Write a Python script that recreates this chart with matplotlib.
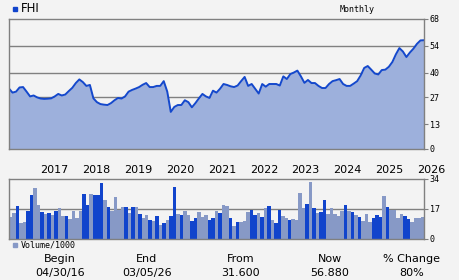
import matplotlib

matplotlib.use("Agg")

import matplotlib.pyplot as plt

# monthly closes, Apr 2016 .. Mar 2026
price = [
    31.6, 29.5, 30.0, 32.2, 32.4, 30.0, 27.5, 28.0, 27.0, 26.4,
    26.2, 26.3, 26.5, 27.5, 28.8, 28.0, 28.5, 30.3, 32.0, 34.5,
    36.4, 35.0, 33.0, 33.5, 26.5, 24.5, 23.5, 23.2, 23.0, 24.0,
    25.5, 26.7, 26.4, 27.5, 30.0, 30.9, 31.6, 32.4, 33.6, 34.5,
    32.4, 32.4, 33.0, 33.0, 35.5, 30.0, 19.4, 22.0, 23.0, 23.0,
    25.5, 24.5, 21.8, 24.0, 26.5, 28.8, 27.5, 26.7, 30.5, 29.5,
    31.5, 34.0, 33.5, 32.8, 32.4, 33.2, 35.5, 37.7, 33.0, 34.0,
    31.5, 29.0, 34.0, 32.6, 34.0, 34.0, 34.0, 33.2, 38.0, 36.6,
    39.2, 40.0, 41.0, 38.0, 34.6, 36.1, 34.5, 34.5, 33.0, 31.9,
    31.9, 34.0, 35.5, 36.0, 36.6, 34.0, 33.0, 33.0, 34.2, 35.5,
    38.5, 42.4, 43.4, 41.5, 39.5, 39.0, 41.3, 41.5, 43.0, 45.5,
    49.5, 52.8, 51.0, 48.1, 50.5, 52.5, 55.0, 56.8, 56.9,
]

# volume / 1000, one bar per month
volume = [
    12.7, 14.9, 18.7, 9.3, 9.8, 15.9, 24.9, 29.1, 19.3, 15.3,
    14.2, 14.9, 13.8, 15.9, 17.4, 13.1, 12.9, 11.3, 15.9, 11.9,
    15.9, 25.5, 19.3, 25.5, 24.9, 24.9, 31.8, 22.1, 18.0, 15.9,
    23.8, 16.5, 18.0, 18.0, 14.7, 18.0, 18.0, 14.2, 11.9, 13.6,
    10.8, 10.2, 13.0, 7.9, 9.1, 10.8, 13.0, 29.5, 14.2, 13.6,
    15.9, 13.6, 10.2, 11.9, 15.3, 12.5, 13.6, 10.8, 11.9, 15.9,
    14.7, 19.3, 18.7, 11.9, 7.4, 9.6, 9.6, 10.2, 15.3, 16.4,
    13.6, 14.7, 12.5, 17.6, 18.7, 10.8, 9.1, 16.4, 13.0, 11.9,
    10.8, 11.5, 10.8, 26.1, 17.6, 19.8, 32.3, 17.6, 14.7, 15.3,
    22.1, 14.2, 17.6, 14.2, 13.0, 15.9, 19.3, 15.9, 15.3, 13.6,
    12.5, 10.2, 14.2, 9.6, 11.9, 13.6, 12.5, 24.4, 18.1, 16.4,
    16.4, 11.9, 14.2, 13.0, 11.3, 9.6, 11.9, 11.9, 12.5,
]

# 1 = dark bar, 0 = light bar
vol_dark = [
    0, 0, 1, 0, 0, 1, 1, 0, 0, 1,
    0, 1, 0, 1, 0, 0, 1, 0, 0, 0,
    0, 1, 1, 0, 1, 1, 1, 0, 1, 0,
    0, 0, 0, 1, 0, 1, 0, 1, 0, 0,
    1, 0, 1, 0, 1, 0, 1, 1, 0, 1,
    0, 0, 1, 1, 0, 0, 0, 1, 1, 0,
    1, 0, 0, 1, 0, 1, 0, 0, 0, 1,
    1, 0, 1, 0, 1, 0, 1, 1, 0, 0,
    1, 0, 0, 0, 0, 1, 0, 1, 0, 1,
    1, 0, 0, 0, 0, 0, 1, 0, 1, 0,
    1, 0, 0, 0, 1, 1, 1, 0, 1, 0,
    0, 0, 0, 1, 1, 0, 0, 0, 0,
]

years = [2017, 2018, 2019, 2020, 2021, 2022, 2023, 2024, 2025, 2026]
price_ticks = [0, 13, 27, 40, 54, 68]
volume_ticks = [0, 17, 34]

stat_labels = ["Begin", "End", "From", "Now", "% Change"]
stat_values = ["04/30/16", "03/05/26", "31.600", "56.880", "80%"]

BG = "#f3f3f3"
GRID = "#808080"
LINE = "#1448cc"
FILL = "#9db0dc"
DARK = "#1144cc"
LIGHT = "#8799c6"

W, H = 460, 280
fig = plt.figure(figsize=(W / 100, H / 100), dpi=100, facecolor=BG)


def px_axes(left, top, right, bottom):
    return fig.add_axes([left / W, 1 - bottom / H, (right - left) / W, (bottom - top) / H])


def style(ax, ticks):
    ax.set_facecolor(BG)
    for side in ("top", "bottom", "left", "right"):
        ax.spines[side].set_color(GRID)
        ax.spines[side].set_linewidth(1.0)
    ax.yaxis.tick_right()
    ax.set_yticks(ticks)
    ax.set_yticklabels([str(t) for t in ticks], family="DejaVu Sans Mono", fontsize=6)
    ax.tick_params(axis="y", length=3, width=0.8, color=GRID, pad=1)
    ax.set_xticks([])
    for t in ticks[1:-1]:
        ax.axhline(t, color=GRID, lw=1.0, zorder=0)


# price panel
ax = px_axes(9, 19, 424, 149)
months = list(range(len(price)))
ax.fill_between(months, price, 0, color=FILL, lw=0, zorder=1)
ax.plot(months, price, color=LINE, lw=1.4, zorder=2)
ax.set_xlim(0, len(price) - 1)
ax.set_ylim(0, 68)
style(ax, price_ticks)

# volume panel
axv = px_axes(9, 179, 424, 239)
colors = [DARK if d else LIGHT for d in vol_dark]
axv.bar(range(len(volume)), volume, width=1.0, color=colors, lw=0, zorder=1)
axv.set_xlim(-0.5, len(volume) - 0.5)
axv.set_ylim(0, 34)
style(axv, volume_ticks)

# year labels between the panels, left-aligned at January
for y in years:
    m = (y - 2016) * 12 - 4
    axv.text(m + 0.5, 1.0 + 9 / 60, str(y), transform=axv.get_xaxis_transform(),
             ha="left", va="center", fontsize=8, clip_on=False)

# legends
fig.patches.append(plt.Rectangle((13 / W, 1 - 11 / H), 4 / W, 4 / H,
                                 transform=fig.transFigure, color=DARK, figure=fig))
fig.text(21 / W, 1 - 9 / H, "FHI", fontsize=8.5, va="center", ha="left")
fig.text(357 / W, 1 - 9 / H, "Monthly", family="DejaVu Sans Mono", fontsize=6,
         va="center", ha="center")
fig.patches.append(plt.Rectangle((13 / W, 1 - 247 / H), 4 / W, 4 / H,
                                 transform=fig.transFigure, color=LIGHT, figure=fig))
fig.text(21 / W, 1 - 245 / H, "Volume/1000", family="DejaVu Sans Mono", fontsize=6,
         va="center", ha="left")

# summary row
stat_x = [60, 147, 241, 330, 412]
for x, lab, val in zip(stat_x, stat_labels, stat_values):
    fig.text(x / W, 1 - 259 / H, lab, fontsize=8, ha="center", va="center")
    fig.text(x / W, 1 - 273 / H, val, fontsize=8, ha="center", va="center")

fig.savefig("out.png", dpi=100, facecolor=BG)
